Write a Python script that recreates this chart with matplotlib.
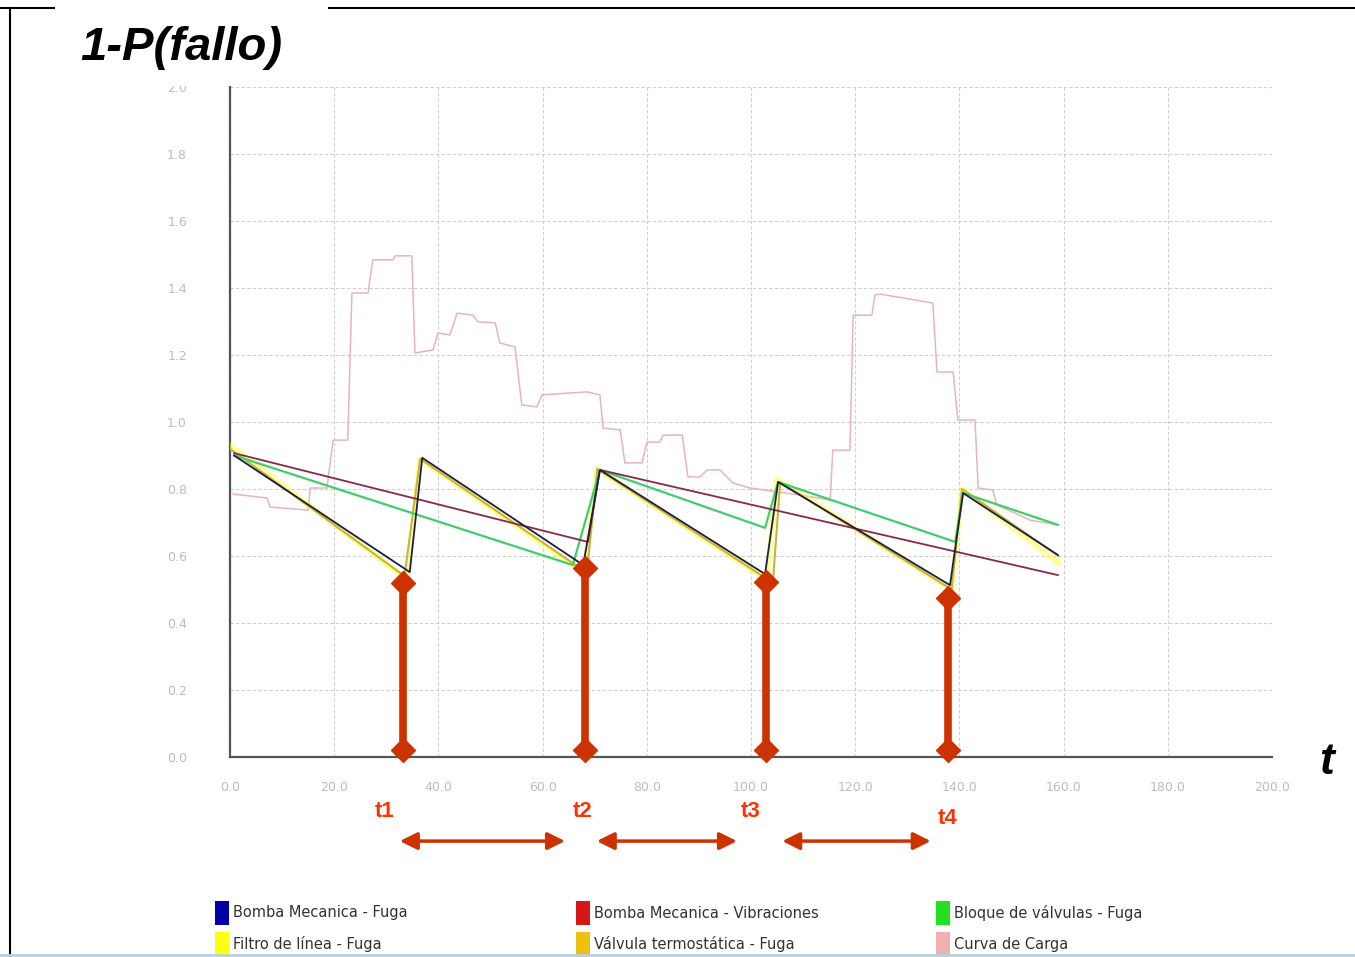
import matplotlib.pyplot as plt
from matplotlib.patches import Rectangle
from matplotlib.lines import Line2D

# ---- data ----
blue_x = [0.8, 34.5, 36.9, 67.8, 71.0, 102.7, 105.2, 138.2, 140.7, 158.9]
blue_y = [0.90, 0.552, 0.893, 0.573, 0.857, 0.546, 0.821, 0.513, 0.788, 0.603]

red_x = [0.8, 68.7, 71.0, 158.9]
red_y = [0.907, 0.642, 0.857, 0.543]

green_x = [0.8, 65.8, 71.0, 102.7, 105.2, 139.2, 140.7, 158.9]
green_y = [0.90, 0.573, 0.857, 0.684, 0.821, 0.642, 0.788, 0.693]

yellow_x = [0.0, 34.0, 36.5, 68.0, 70.5, 103.0, 105.0, 138.5, 140.5, 159.0]
yellow_y = [0.93, 0.53, 0.89, 0.55, 0.86, 0.53, 0.83, 0.50, 0.80, 0.58]

gold_x = [0.0, 33.5, 36.5, 68.5, 70.5, 104.2, 105.6, 138.5, 140.5, 159.0]
gold_y = [0.92, 0.54, 0.89, 0.55, 0.86, 0.52, 0.82, 0.50, 0.80, 0.60]

load_x = [0.6, 7.1, 7.7, 15.0, 15.4, 18.6, 19.8, 22.6, 23.4, 26.5, 27.4, 31.3,
          31.7, 34.9, 35.5, 39.0, 39.9, 42.2, 43.6, 46.6, 47.6, 50.9, 51.8, 54.7,
          56.0, 58.9, 59.9, 68.5, 71.0, 71.6, 74.9, 75.8, 79.1, 80.0, 82.5, 83.1,
          86.8, 87.9, 90.2, 91.6, 94.0, 95.4, 96.5, 99.8, 109.4, 115.2, 115.7,
          119.0, 119.6, 123.2, 123.8, 124.8, 134.9, 135.7, 138.8, 139.7, 143.0,
          143.6, 146.4, 147.2, 153.6, 158.9]
load_y = [0.785, 0.773, 0.746, 0.737, 0.803, 0.803, 0.946, 0.946, 1.385, 1.385,
          1.484, 1.484, 1.496, 1.496, 1.206, 1.215, 1.266, 1.260, 1.325, 1.319,
          1.299, 1.296, 1.236, 1.224, 1.051, 1.045, 1.081, 1.090, 1.081, 0.982,
          0.976, 0.878, 0.878, 0.940, 0.940, 0.961, 0.961, 0.836, 0.836, 0.857,
          0.857, 0.836, 0.818, 0.803, 0.782, 0.767, 0.916, 0.916, 1.319, 1.319,
          1.379, 1.382, 1.355, 1.149, 1.149, 1.006, 1.006, 0.803, 0.797, 0.752,
          0.707, 0.693]

legend_names = ['Bomba Mecanica - Fuga', 'Bomba Mecanica - Vibraciones',
                'Bloque de válvulas - Fuga', 'Filtro de línea - Fuga',
                'Válvula termostática - Fuga', 'Curva de Carga']
legend_colors = ['#0000a8', '#d41818', '#22e022', '#ffff10', '#f0c010', '#f0b0b0']

# maintenance times and the value reached just before each one
t_times = [33.2, 68.1, 102.9, 137.8]
t_tops = [0.519, 0.564, 0.522, 0.475]
t_names = ['t1', 't2', 't3', 't4']
spans = [(32.6, 64.3), (70.4, 97.3), (106.0, 134.5)]

x_ticks = [0, 20, 40, 60, 80, 100, 120, 140, 160, 180, 200]
y_ticks = [0.0, 0.2, 0.4, 0.6, 0.8, 1.0, 1.2, 1.4, 1.6, 1.8, 2.0]

fig = plt.figure(figsize=(13.55, 9.57), dpi=100)
W, H = 1355, 957
ax = fig.add_axes([230 / W, 1 - 757 / H, 1042 / W, 670 / H])

# curves
ax.plot(load_x, load_y, color='#e8b4bc', lw=1.1, zorder=2)
ax.plot(yellow_x, yellow_y, color='#ffff30', lw=4, alpha=0.5, zorder=3)
ax.plot(gold_x, gold_y, color='#c8b43a', lw=1.5, zorder=3)
ax.plot(green_x, green_y, color='#3ecf6a', lw=1.6, zorder=4)
ax.plot(red_x, red_y, color='#8a2848', lw=1.3, zorder=4)
ax.plot(blue_x, blue_y, color='#1c1c50', lw=1.3, zorder=5)

ax.set_xlim(0, 200)
ax.set_ylim(0, 2.0)
ax.set_xticks(x_ticks)
ax.set_xticklabels(['%.1f' % v for v in x_ticks])
ax.set_yticks(y_ticks)
ax.set_yticklabels(['%.1f' % v for v in y_ticks])
ax.tick_params(axis='x', length=0, pad=17, labelsize=9, labelcolor='#bdbdbd')
ax.tick_params(axis='y', length=0, pad=31, labelsize=9, labelcolor='#bdbdbd')
ax.grid(True, color='#cfcfcf', lw=0.8, ls=(0, (3, 2)))
for s in ['top', 'right']:
    ax.spines[s].set_visible(False)
for s in ['left', 'bottom']:
    ax.spines[s].set_color('#555555')
    ax.spines[s].set_linewidth(1.6)

# vertical maintenance markers
arrow_col = '#cc3300'
for t, top in zip(t_times, t_tops):
    ax.plot([t, t], [0.021, top], color=arrow_col, lw=5.5, zorder=6,
            solid_capstyle='butt')
    ax.plot([t, t], [0.021, top], ls='none', marker='D', ms=12.5,
            color=arrow_col, zorder=7, clip_on=False)

# t labels under axis
t_label_y = [-0.164, -0.164, -0.164, -0.184]
t_label_x = [29.7, 67.6, 99.9, 137.8]
for name, lx, ly in zip(t_names, t_label_x, t_label_y):
    ax.text(lx, ly, name, color='#ff3300', fontsize=16, fontweight='bold',
            family='Liberation Sans', ha='center', va='center')

# spans between the markers
for x0, x1 in spans:
    ax.annotate('', xy=(x1, -0.251), xytext=(x0, -0.251),
                arrowprops=dict(arrowstyle='<|-|>', color=arrow_col, lw=2.5,
                                mutation_scale=26, shrinkA=0, shrinkB=0),
                annotation_clip=False)

# axis letter t
fig.text(1327 / W, 1 - 762 / H, 't', fontsize=32, fontweight='bold',
         fontstyle='italic', family='Liberation Sans', ha='center', va='center')

# slide frame and title box
fig.add_artist(Line2D([0, 1], [1 - 8 / H, 1 - 8 / H], color='black', lw=1.5))
fig.add_artist(Line2D([10 / W, 10 / W], [0, 1 - 8 / H], color='black', lw=1.5))
fig.add_artist(Line2D([0, 1], [1 - 955 / H, 1 - 955 / H], color='#b8d0e0', lw=2))
fig.patches.append(Rectangle((55 / W, 1 - 86 / H), 273 / W, 86 / H,
                             transform=fig.transFigure, facecolor='white',
                             edgecolor='none', zorder=5))
fig.text(80 / W, 1 - 48 / H, '1-P(fallo)', fontsize=34, fontweight='bold',
         fontstyle='italic', family='Liberation Sans', va='center', zorder=6)

# legend
col_x = [215, 576, 936]
row_y = [913, 944]
for i, (name, col) in enumerate(zip(legend_names, legend_colors)):
    cx = col_x[i % 3]
    cy = row_y[i // 3]
    fig.patches.append(Rectangle((cx / W, 1 - (cy + 12) / H), 14 / W, 24 / H,
                                 transform=fig.transFigure, facecolor=col,
                                 edgecolor='none'))
    fig.text((cx + 18) / W, 1 - cy / H, name, fontsize=10.5, color='#333333',
             va='center')

plt.savefig('out.png', dpi=100)
